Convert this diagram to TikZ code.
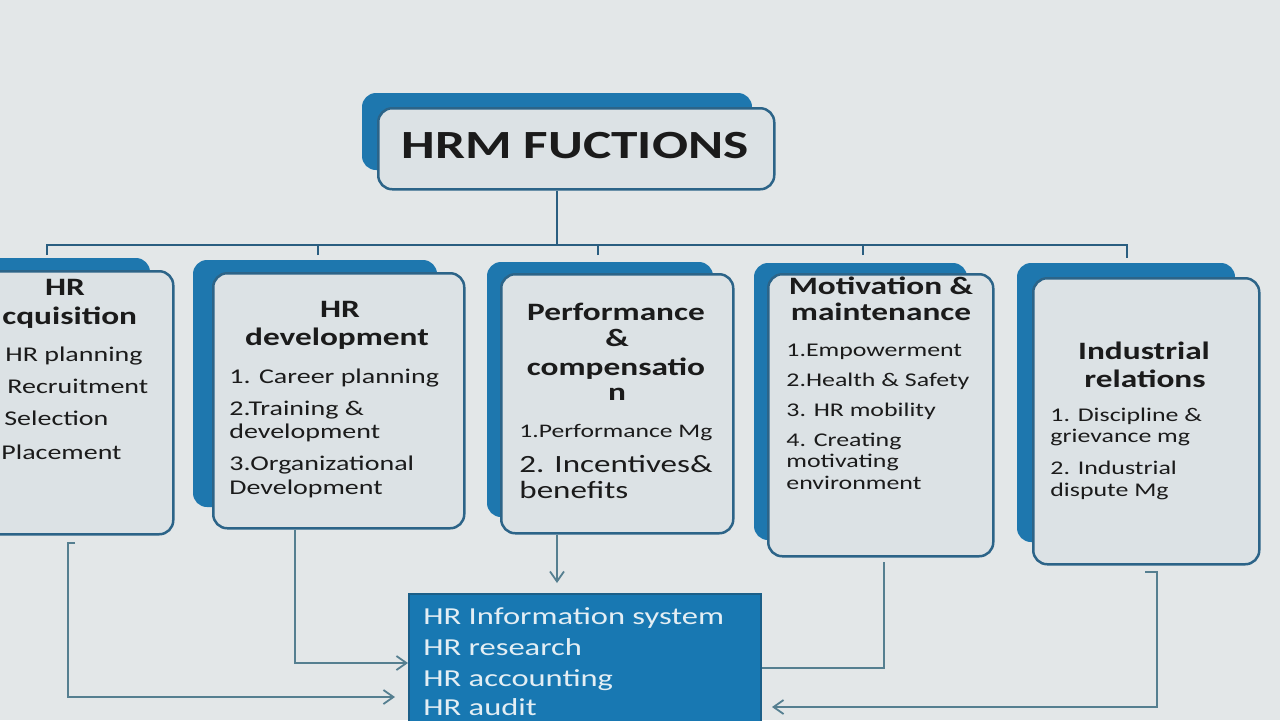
\documentclass[tikz,border=0pt]{standalone}
\usepackage{fontspec}
\setmainfont{Carlito}[FakeStretch=1.333]
\usetikzlibrary{arrows.meta}
\definecolor{bg}{HTML}{E3E7E8}
\definecolor{boxfill}{HTML}{DCE2E5}
\definecolor{boxedge}{HTML}{2C6488}
\definecolor{blueback}{HTML}{1E77AE}
\definecolor{infofill}{HTML}{1878B2}
\definecolor{infoedge}{HTML}{1B5F88}
\definecolor{conn}{HTML}{557F90}
\definecolor{busc}{HTML}{2A5E80}
\definecolor{ink}{HTML}{1B1B1B}
\definecolor{infoink}{HTML}{E3EEF4}
\tikzset{
  frontbox/.style 2 args={draw=boxedge, line width=1.25pt, fill=boxfill, rounded corners=7pt,
    minimum width=#1*0.5pt, minimum height=#2*0.5pt, anchor=north west, inner sep=0pt},
  backshape/.style={fill=blueback, rounded corners=7pt},
  head/.style={anchor=base, inner sep=0pt, text=ink, font=\fontsize{12.5pt}{15pt}\selectfont\bfseries},
  itemA/.style={anchor=base west, inner sep=0pt, text=ink, font=\fontsize{10.5pt}{12pt}\selectfont},
  itemS/.style={anchor=base west, inner sep=0pt, text=ink, font=\fontsize{9.7pt}{11pt}\selectfont},
  itemL/.style={anchor=base west, inner sep=0pt, text=ink, font=\fontsize{12.4pt}{14pt}\selectfont},
  infotext/.style={anchor=base west, inner sep=0pt, text=infoink, font=\fontsize{12.2pt}{14pt}\selectfont},
  bus/.style={draw=busc, line width=1.4pt},
  link/.style={draw=conn, line width=1pt},
  linkarrow/.style={link, -{Straight Barb[length=5pt,width=7pt,line width=0.9pt]}},
}
\begin{document}
\begin{tikzpicture}[x=0.5pt,y=-0.5pt]
\useasboundingbox (0,0) rectangle (1280,720);
\clip (0,0) rectangle (1280,720);
\fill[bg] (0,0) rectangle (1280,720);

% ---------- title ----------
\fill[backshape] (362,93) rectangle (752,170);
\node[frontbox={396}{81}] (title) at (377,107) {};
\node[anchor=base, inner sep=0pt, text=ink, font=\fontsize{20pt}{24pt}\selectfont\bfseries] (titletext) at (575,158) {HRM FUCTIONS};

% ---------- bus ----------
\coordinate (busmid) at (557,245);
\coordinate (s1) at (47,255);
\coordinate (s2) at (318,255);
\coordinate (s3) at (598,255);
\coordinate (s4) at (863,255);
\coordinate (s5) at (1127,258);
\draw[bus] (title.south -| busmid) -- (busmid);
\draw[bus] (s1) -- (47,245) -- (1127,245) -- (s5);
\draw[bus] (s2) -- (318,245);
\draw[bus] (s3) -- (598,245);
\draw[bus] (s4) -- (863,245);

% ---------- HR acquisition (cut by the left edge) ----------
\fill[backshape] (-50,258) rectangle (150,510);
\node[frontbox={212}{263}] (acq) at (-40,270) {};
\node[head] (acqh1) at (65,295) {HR};
\node[head, anchor=base west] (acqh2) at (2,324) {cquisition};
\node[itemA] (acq1) at (5,361) {HR planning};
\node[itemA] (acq2) at (7,393) {Recruitment};
\node[itemA] (acq3) at (4,425) {Selection};
\node[itemA] (acq4) at (1,459) {Placement};

% ---------- HR development ----------
\fill[backshape] (193,260) rectangle (437,507);
\node[frontbox={251}{255}] (dev) at (212,272) {};
\node[head] (devh1) at (340,317) {HR};
\node[head] (devh2) at (337,345) {development};
\node[itemA] (dev1) at (229,383) {1. Career planning};
\node[itemA] (dev2) at (229,415) {2.Training \&};
\node[itemA] (dev3) at (229,438) {development};
\node[itemA] (dev4) at (229,470) {3.Organizational};
\node[itemA] (dev5) at (229,494) {Development};

% ---------- Performance & compensation ----------
\fill[backshape] (487,262) rectangle (713,517);
\node[frontbox={232}{259}] (perf) at (500,273) {};
\node[head] (perfh1) at (616,320) {Performance};
\node[head] (perfh2) at (617,346) {\&};
\node[head] (perfh3) at (616,375) {compensatio};
\node[head] (perfh4) at (617,400) {n};
\node[anchor=base west, inner sep=0pt, text=ink, font=\fontsize{9.6pt}{11pt}\selectfont] (perf1) at (519,437) {1.Performance Mg};
\node[itemL] (perf2) at (519,472) {2. Incentives\&};
\node[itemL] (perf3) at (519,498) {benefits};

% ---------- Motivation & maintenance ----------
\fill[backshape] (754,263) rectangle (967,540);
\node[frontbox={225}{282}] (mot) at (767,273) {};
\node[head] (moth1) at (881,294) {Motivation \&};
\node[head] (moth2) at (881,320) {maintenance};
\node[itemS] (mot1) at (786,356) {1.Empowerment};
\node[itemS] (mot2) at (786,386) {2.Health \& Safety};
\node[itemS] (mot3) at (786,416) {3. HR mobility};
\node[itemS] (mot4) at (786,446) {4. Creating};
\node[itemS] (mot5) at (786,467) {motivating};
\node[itemS] (mot6) at (786,489) {environment};

% ---------- Industrial relations ----------
\fill[backshape] (1017,263) rectangle (1235,542);
\node[frontbox={226}{286}] (ind) at (1032,277) {};
\node[head] (indh1) at (1144,359) {Industrial};
\node[head] (indh2) at (1145,387) {relations};
\node[itemS] (ind1) at (1050,421) {1. Discipline \&};
\node[itemS] (ind2) at (1050,442) {grievance mg};
\node[itemS] (ind3) at (1050,474) {2. Industrial};
\node[itemS] (ind4) at (1050,496) {dispute Mg};

% ---------- HR information box ----------
\node[draw=infoedge, line width=1.2pt, fill=infofill, minimum width=176pt, minimum height=75pt,
      anchor=north west, inner sep=0pt] (info) at (408,593) {};
\node[infotext] (info1) at (423,624) {HR Information system};
\node[infotext] (info2) at (423,655) {HR research};
\node[infotext] (info3) at (423,686) {HR accounting};
\node[infotext] (info4) at (423,715) {HR audit};

% ---------- connectors to the info box ----------
\coordinate (a0) at (75,543);
\coordinate (a1) at (68,543);
\draw[linkarrow] (a0) -- (a1) -- (68,697) -- (395,697);
\draw[linkarrow] (dev.south -| 295,0) -- (295,663) -- (info.west |- 0,663);
\draw[linkarrow] (perf.south -| 557,0) -- (557,583);
\coordinate (m0) at (884,562);
\draw[link] (m0) -- (884,668) -- (info.east |- 0,668);
\coordinate (i0) at (1145,572);
\coordinate (i1) at (1157,572);
\draw[linkarrow] (i0) -- (i1) -- (1157,707) -- (772,707);
\end{tikzpicture}
\end{document}
